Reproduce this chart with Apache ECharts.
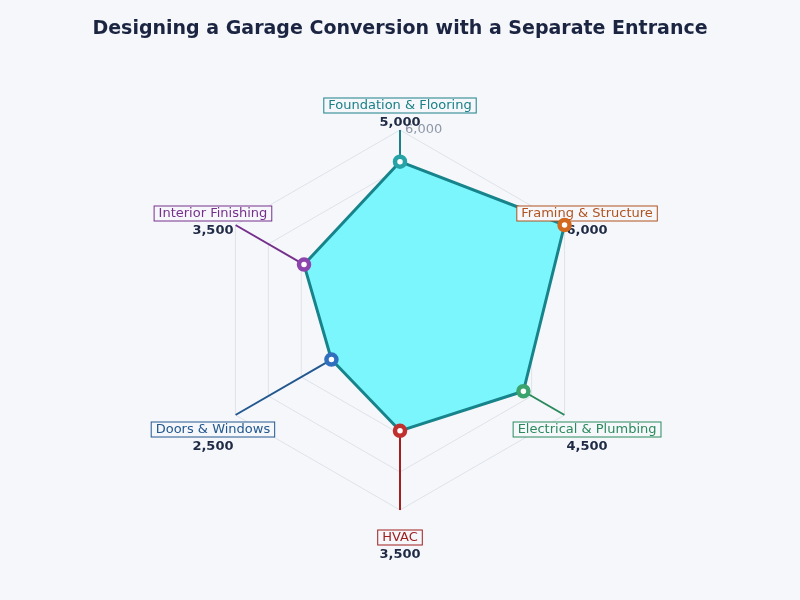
<!DOCTYPE html>
<html>
<head>
<meta charset="utf-8">
<script src="https://cdn.jsdelivr.net/npm/echarts@6/dist/echarts.min.js"></script>
<style>
  html, body { margin: 0; padding: 0; background: #f5f7fb; }
  #chart { width: 800px; height: 600px; }
</style>
</head>
<body>
<div id="chart"></div>
<script>
// chart values, clockwise from the top
var categories = ['Foundation & Flooring', 'Framing & Structure', 'Electrical & Plumbing', 'HVAC', 'Doors & Windows', 'Interior Finishing'];
var values = [5000, 6000, 4500, 3500, 2500, 3500];
var axisMax = 6000;
var axisTickStep = 1200;

var textColors = ['#1b8088', '#b0531f', '#2b8a5c', '#a11f1f', '#22588f', '#76308c'];
var markerColors = ['#27a3a8', '#d2691e', '#3aa36e', '#c0302e', '#2f6fbd', '#8e44ad'];

var fmt = function (v) { return v.toLocaleString('en-US'); };

var myChart = echarts.init(document.getElementById('chart'));

// the radar component only draws the hexagon grid
var indicator = categories.map(function (c) {
    return { name: c, max: axisMax };
});

// closed outline: back to the first point after the last one
var outline = values.map(function (v, i) { return [v, i]; });
outline.push([values[0], categories.length]);

var series = [{
    type: 'line',
    coordinateSystem: 'polar',
    polarIndex: 0,
    z: 2,
    symbol: 'none',
    silent: true,
    lineStyle: { color: '#17838a', width: 3 },
    areaStyle: { color: '#7af6fc', opacity: 1 },
    data: outline
}];

var rich = {
    v: { fontFamily: 'DejaVu Sans', fontSize: 13, fontWeight: 'bold', color: '#1f2a44', lineHeight: 19, align: 'center' }
};

categories.forEach(function (name, i) {
    rich['n' + i] = {
        fontFamily: 'DejaVu Sans', fontSize: 13, color: textColors[i],
        borderColor: textColors[i], borderWidth: 1, backgroundColor: '#f5f7fb',
        padding: [1, 4, 0, 4], lineHeight: 16, align: 'center'
    };
    // leader line from the point to the rim, plus the marker
    series.push({
        type: 'line',
        coordinateSystem: 'polar',
        polarIndex: 0,
        z: 4,
        lineStyle: { color: textColors[i], width: 2 },
        itemStyle: { color: '#ffffff', borderColor: markerColors[i], borderWidth: 4.5, opacity: 1 },
        symbolSize: 10,
        data: [
            { value: [values[i], i], symbol: 'circle' },
            { value: [axisMax, i], symbol: 'none' }
        ],
        silent: true
    });
});

// name boxes and values, on a slightly larger invisible ring
series.push({
    type: 'scatter',
    coordinateSystem: 'polar',
    polarIndex: 1,
    z: 3,
    symbolSize: 1,
    silent: true,
    itemStyle: { color: 'rgba(0,0,0,0)', opacity: 1 },
    label: {
        show: true,
        position: 'inside',
        offset: [0, 11],
        formatter: function (p) {
            var i = p.dataIndex;
            return '{n' + i + '|' + categories[i] + '}\n{v|' + fmt(values[i]) + '}';
        },
        rich: rich
    },
    data: categories.map(function (c, i) { return [1, i]; })
});

option = {
    backgroundColor: '#f5f7fb',
    textStyle: { fontFamily: 'DejaVu Sans' },
    title: {
        text: 'Designing a Garage Conversion with a Separate Entrance',
        left: 'center',
        top: 15,
        textStyle: { fontFamily: 'DejaVu Sans', fontSize: 19, fontWeight: 'bold', color: '#1b2541' }
    },
    radar: {
        center: [400, 320],
        radius: 190,
        startAngle: 90,
        splitNumber: axisMax / axisTickStep,
        shape: 'polygon',
        indicator: indicator,
        axisName: { show: false },
        axisLine: { lineStyle: { color: '#e1e5ec', width: 1 } },
        splitLine: { lineStyle: { color: '#dfe3ea', width: 1 } },
        splitArea: { show: false },
        axisLabel: { show: false }
    },
    polar: [
        { center: [400, 320], radius: 190 },
        { center: [400, 320], radius: 216 }
    ],
    angleAxis: [
        { polarIndex: 0, type: 'value', min: 0, max: categories.length, startAngle: 90, show: false },
        { polarIndex: 1, type: 'value', min: 0, max: categories.length, startAngle: 90, show: false }
    ],
    radiusAxis: [
        {
            polarIndex: 0, type: 'value', min: 0, max: axisMax, interval: axisTickStep,
            axisLine: { show: false }, axisTick: { show: false }, splitLine: { show: false },
            axisLabel: {
                show: true, color: '#8e97a8', fontSize: 13, fontFamily: 'DejaVu Sans',
                align: 'left', verticalAlign: 'middle', margin: -5, lineHeight: 13,
                padding: [6, 0, 0, 0],
                formatter: function (v) { return v === axisMax ? fmt(v) : ''; }
            }
        },
        { polarIndex: 1, type: 'value', min: 0, max: 1, show: false }
    ],
    series: series
};

myChart.setOption(option);
</script>
</body>
</html>
